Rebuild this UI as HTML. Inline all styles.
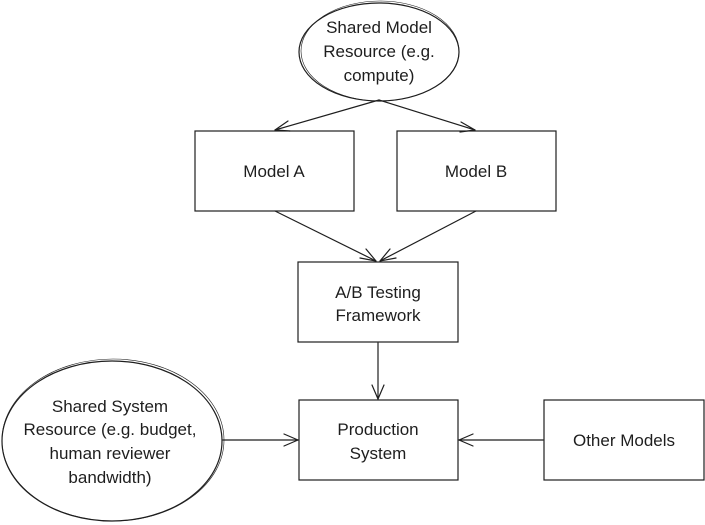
<!DOCTYPE html>
<html><head><meta charset="utf-8"><style>
html,body{margin:0;padding:0;background:#fff;width:705px;height:525px;overflow:hidden}
svg{display:block}
text{font-family:"Liberation Sans",sans-serif;font-size:17px;fill:#1e1e1e;text-anchor:middle}
</style></head><body>
<svg width="705" height="525" viewBox="0 0 705 525" xmlns="http://www.w3.org/2000/svg">
<g fill="none" stroke="#1e1e1e" stroke-width="1.2" stroke-linecap="round">
<ellipse cx="379" cy="52" rx="80" ry="49"/>
<ellipse cx="380" cy="51" rx="79" ry="50" stroke-width="0.6"/>
<rect x="195" y="131" width="159" height="80"/>
<rect x="397" y="131" width="159" height="80"/>
<rect x="298" y="262" width="160" height="80"/>
<rect x="299" y="400" width="159" height="80"/>
<rect x="544" y="400" width="160" height="80"/>
<ellipse cx="112" cy="441" rx="110" ry="80"/>
<ellipse cx="113" cy="440" rx="111" ry="81" stroke-width="0.6"/>
<!-- arrows -->
<path d="M379 100 L275 130"/><path d="M275 130 L288 121 M275 130 L290 131"/>
<path d="M379 100 L475 130"/><path d="M475 130 L461 122 M475 130 L460 132"/>
<path d="M275 211 L376 261"/><path d="M376 261 L360 258 M376 261 L366 249"/>
<path d="M476 211 L380 261"/><path d="M380 261 L390 249 M380 261 L396 258"/>
<path d="M378 343 L378 399"/><path d="M378 399 L372 385 M378 399 L384 385"/>
<path d="M223 440 L298 440"/><path d="M298 440 L284 434 M298 440 L284 446"/>
<path d="M543 440 L459 440"/><path d="M459 440 L473 434 M459 440 L473 446"/>
</g>
<text x="379" y="33">Shared Model</text>
<text x="379" y="57">Resource (e.g.</text>
<text x="379" y="81">compute)</text>
<text x="274" y="177">Model A</text>
<text x="476" y="177">Model B</text>
<text x="378" y="298">A/B Testing</text>
<text x="378" y="321">Framework</text>
<text x="378" y="435">Production</text>
<text x="378" y="459">System</text>
<text x="624" y="446">Other Models</text>
<text x="110" y="412">Shared System</text>
<text x="110" y="435">Resource (e.g. budget,</text>
<text x="110" y="459">human reviewer</text>
<text x="110" y="483">bandwidth)</text>
</svg>
</body></html>
